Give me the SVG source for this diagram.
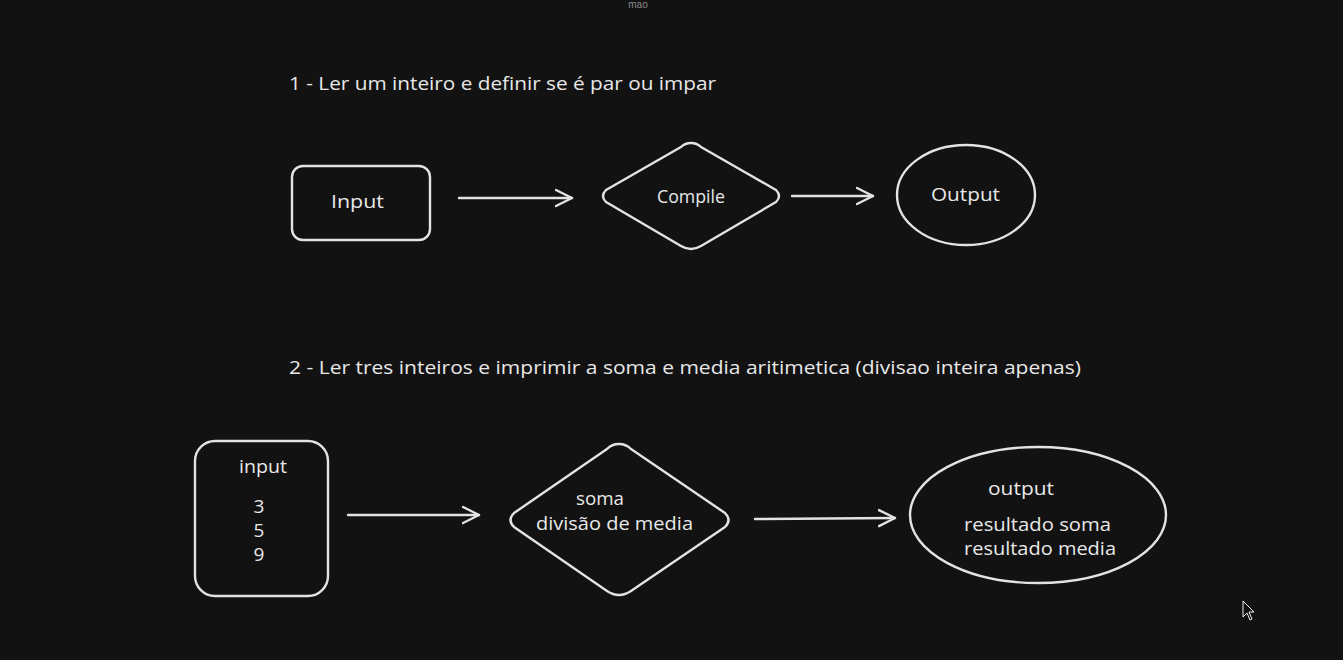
<svg xmlns="http://www.w3.org/2000/svg" width="1343" height="660" viewBox="0 0 1343 660">
<style>
.s{fill:none;stroke:#e3e3e3;stroke-width:2.4;stroke-linecap:round;stroke-linejoin:round}
.t{fill:#e8e8e8;font-family:"Open Sans","Liberation Sans",sans-serif;font-size:19px}
.h{fill:#e8e8e8;font-family:"Open Sans","Liberation Sans",sans-serif;font-size:19px}
</style>
<defs>
<marker id="ah" markerWidth="20" markerHeight="20" refX="17" refY="10" orient="auto" markerUnits="userSpaceOnUse">
<path d="M1,2 L17,10 L1,18" fill="none" stroke="#e3e3e3" stroke-width="2.4" stroke-linecap="round" stroke-linejoin="round"/>
</marker>
</defs>
<rect width="1343" height="660" fill="#121212"/>
<text x="638" y="8" text-anchor="middle" fill="#8a8a8a" font-family="Liberation Sans, sans-serif" font-size="10">mao</text>
<text class="h" x="289" y="90" textLength="427" lengthAdjust="spacingAndGlyphs">1 - Ler um inteiro e definir se é par ou impar</text>
<text class="h" x="289" y="374" textLength="792" lengthAdjust="spacingAndGlyphs">2 - Ler tres inteiros e imprimir a soma e media aritimetica (divisao inteira apenas)</text>
<g id="input1">
<rect class="s" x="292" y="166" width="138" height="74" rx="11"/>
<text class="t" x="331" y="208" textLength="53" lengthAdjust="spacingAndGlyphs">Input</text>
</g>
<g id="compile">
<path class="s" d="M691,143 Q697,143 701,147 L776,190 Q782,196 776,202 L701,246 Q691,252 681,246 L606,202 Q600,196 606,190 L681,147 Q685,143 691,143 Z"/>
<text class="t" x="657" y="203" font-size="20" textLength="68" lengthAdjust="spacingAndGlyphs">Compile</text>
</g>
<g id="output1">
<ellipse class="s" cx="966" cy="195" rx="69" ry="50"/>
<text class="t" x="931" y="201" textLength="69" lengthAdjust="spacingAndGlyphs">Output</text>
</g>
<g id="input2">
<rect class="s" x="195" y="441" width="133" height="155" rx="20"/>
<text class="t" x="239" y="473" textLength="48" lengthAdjust="spacingAndGlyphs">input</text>
<text class="t" x="259" y="513" text-anchor="middle">3</text>
<text class="t" x="259" y="537" text-anchor="middle">5</text>
<text class="t" x="259" y="561" text-anchor="middle">9</text>
</g>
<g id="process">
<path class="s" d="M619,444 Q626,444 631,449 L725,513 Q732,520 725,527 L631,591 Q619,599 607,591 L514,527 Q507,520 514,513 L607,449 Q612,444 619,444 Z"/>
<text class="t" x="576" y="505" textLength="48" lengthAdjust="spacingAndGlyphs">soma</text>
<text class="t" x="536" y="530" textLength="157" lengthAdjust="spacingAndGlyphs">divisão de media</text>
</g>
<g id="output2">
<ellipse class="s" cx="1038" cy="515" rx="128" ry="68"/>
<text class="t" x="988" y="495" textLength="66" lengthAdjust="spacingAndGlyphs">output</text>
<text class="t" x="964" y="531" textLength="147" lengthAdjust="spacingAndGlyphs">resultado soma</text>
<text class="t" x="964" y="555" textLength="152" lengthAdjust="spacingAndGlyphs">resultado media</text>
</g>
<g id="connectors">
<line class="s" x1="459" y1="198" x2="572" y2="198" marker-end="url(#ah)"/>
<line class="s" x1="792" y1="196" x2="873" y2="196" marker-end="url(#ah)"/>
<line class="s" x1="348" y1="515" x2="479" y2="515" marker-end="url(#ah)"/>
<line class="s" x1="755" y1="519" x2="895" y2="518" marker-end="url(#ah)"/>
</g>
<path d="M1243,601 L1243,617 L1247,613 L1250,620 L1252,619 L1249,612 L1254,612 Z" fill="#111" stroke="#eee" stroke-width="1"/>
</svg>
